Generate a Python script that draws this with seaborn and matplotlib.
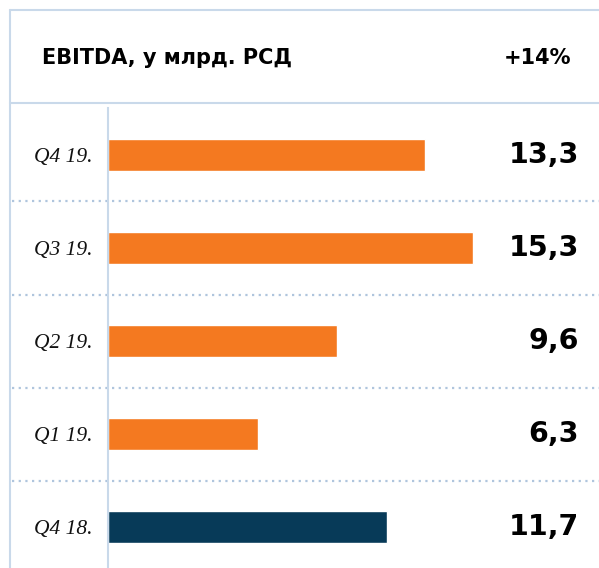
import matplotlib
matplotlib.use("Agg")
import matplotlib.pyplot as plt
import seaborn as sns
import pandas as pd
from matplotlib.lines import Line2D
from matplotlib.transforms import blended_transform_factory

# ── Data ──────────────────────────────────────────────────────────────────────
quarters = ["Q4 19.", "Q3 19.", "Q2 19.", "Q1 19.", "Q4 18."]
ebitda = [13.3, 15.3, 9.6, 6.3, 11.7]
value_labels = ["13,3", "15,3", "9,6", "6,3", "11,7"]
title = "EBITDA, у млрд. РСД"
growth = "+14%"

ORANGE = "#F47920"
NAVY = "#073A58"
LINE = "#C9D9EA"
DOTS = "#AFC5DD"
bar_colors = [ORANGE, ORANGE, ORANGE, ORANGE, NAVY]

W, H = 599, 568
sns.set_style("white")
plt.rcParams["font.family"] = ["DejaVu Sans"]

fig = plt.figure(figsize=(W / 100, H / 100), dpi=100)

def px(x, y):
    return x / W, 1 - y / H

# axes covers the bar area
ax_left, ax_top = 108, 108
ax = fig.add_axes([ax_left / W, 0, (W - ax_left) / W, (H - ax_top) / H])

df = pd.DataFrame({"quarter": quarters, "ebitda": ebitda})
sns.barplot(data=df, x="ebitda", y="quarter", hue="quarter", palette=bar_colors,
            orient="h", width=0.35, legend=False, ax=ax, saturation=1)

ax.set_xlim(0, (W - ax_left) / 23.85)
ax.set_ylim(4.44, -0.505)
ax.set_xlabel("")
ax.set_ylabel("")
ax.set_xticks([])
ax.tick_params(axis="y", length=0, pad=11)
for lab in ax.get_yticklabels():
    lab.set_fontfamily("Liberation Serif")
    lab.set_fontstyle("italic")
    lab.set_fontsize(15.5)
    lab.set_color("#111111")
for s in ["top", "right", "bottom"]:
    ax.spines[s].set_visible(False)
ax.spines["left"].set_color(LINE)
ax.spines["left"].set_linewidth(1.5)

# value labels on the right
trans = blended_transform_factory(ax.transAxes, ax.transData)
for i, txt in enumerate(value_labels):
    ax.text((579 - ax_left) / (W - ax_left), i, txt, transform=trans,
            ha="right", va="center", fontsize=20.5, fontweight="bold", color="#000000")

# dotted row separators
for y in [0.5, 1.5, 2.5, 3.5]:
    ax.axhline(y, xmin=(12 - ax_left) / (W - ax_left), xmax=1, color=DOTS,
               linestyle=(0, (1, 2)), linewidth=1.6, clip_on=False)

# header frame
for (x0, y0), (x1, y1) in [((10, 10), (W, 10)), ((10, 10), (10, H)), ((10, 103), (W, 103))]:
    a, b = px(x0, y0)
    c, d = px(x1, y1)
    fig.add_artist(Line2D([a, c], [b, d], color=LINE, linewidth=1.5))

fig.text(*px(42, 58), title, ha="left", va="center", fontsize=15, fontweight="bold", color="#000000")
fig.text(*px(571, 58), growth, ha="right", va="center", fontsize=15, fontweight="bold", color="#000000")

fig.savefig("out.png", dpi=100, facecolor="white")
